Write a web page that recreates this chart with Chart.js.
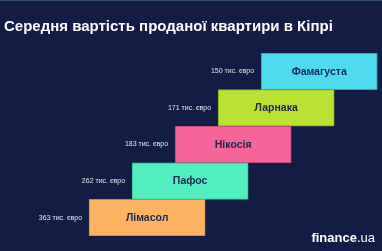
<!DOCTYPE html>
<html>
<head>
<meta charset="utf-8">
<script src="https://cdn.jsdelivr.net/npm/chart.js@4"></script>
<style>
    html, body { margin: 0; padding: 0; background: #131c45; }
    #wrap { width: 382px; height: 251px; position: relative; }
</style>
</head>
<body>
<div id="wrap"><canvas id="bar_chart" width="382" height="251"></canvas></div>
<script>
// top to bottom, as in the picture
var cities = ['Фамагуста', 'Ларнака', 'Нікосія', 'Пафос', 'Лімасол'];
var prices = [150, 171, 183, 262, 363];
var priceLabels = ['150 тис. євро', '171 тис. євро', '183 тис. євро', '262 тис. євро', '363 тис. євро'];
var barColors = ['#4edbeb', '#bbe233', '#f7649a', '#52f0c1', '#fdb462'];
var borderColors = ['#2f9fb4', '#86a825', '#b84676', '#3ab590', '#c4864a'];

(function () {
    'use strict';

    var BG = '#131c45';
    var FONT = "'Liberation Sans', Arial, sans-serif";
    var BAR_LEN = 2.7; // bar length in steps (staircase layout)
    var n = cities.length;

    // each bar steps one unit to the right going up
    var spans = cities.map(function (c, i) {
        var s = n - 1 - i;
        return [s, s + BAR_LEN];
    });

    var decor = {
        id: 'decor',
        beforeDraw: function (chart) {
            var ctx = chart.ctx;
            ctx.save();
            ctx.fillStyle = BG;
            ctx.fillRect(0, 0, chart.width, chart.height);
            ctx.fillStyle = '#35516f';
            ctx.fillRect(0, 0, chart.width, 1);
            ctx.restore();
        },
        afterDatasetsDraw: function (chart) {
            var ctx = chart.ctx;
            var meta = chart.getDatasetMeta(0);
            ctx.save();
            ctx.textBaseline = 'middle';
            meta.data.forEach(function (bar, i) {
                var left = Math.min(bar.x, bar.base);
                var right = Math.max(bar.x, bar.base);
                ctx.fillStyle = '#1c2552';
                ctx.font = 'bold 10.5px ' + FONT;
                ctx.textAlign = 'center';
                ctx.fillText(cities[i], (left + right) / 2, bar.y + 0.5);
                ctx.fillStyle = '#e4e6ee';
                ctx.font = '7px ' + FONT;
                ctx.textAlign = 'right';
                ctx.fillText(priceLabels[i], left - 7, bar.y);
            });

            // title
            ctx.textAlign = 'left';
            ctx.textBaseline = 'alphabetic';
            ctx.fillStyle = '#ffffff';
            ctx.font = 'bold 15px ' + FONT;
            ctx.fillText('Середня вартість проданої квартири в Кіпрі', 4, 31);

            // logo
            ctx.font = 'bold 13px ' + FONT;
            var w1 = ctx.measureText('finance').width;
            ctx.font = '13px ' + FONT;
            var w2 = ctx.measureText('.ua').width;
            var x0 = 375 - w1 - w2;
            ctx.font = 'bold 13px ' + FONT;
            ctx.fillText('finance', x0, 242);
            ctx.font = '13px ' + FONT;
            ctx.fillText('.ua', x0 + w1, 242);
            ctx.restore();
        }
    };

    var config = {
        type: 'bar',
        data: {
            labels: cities,
            datasets: [{
                label: 'Середня вартість, тис. євро',
                data: spans,
                backgroundColor: barColors,
                borderColor: borderColors,
                borderWidth: 1,
                borderSkipped: false,
                barPercentage: 1,
                categoryPercentage: 1
            }]
        },
        options: {
            indexAxis: 'y',
            responsive: false,
            animation: false,
            layout: { padding: { top: 53, bottom: 15, left: 0, right: 0 } },
            scales: {
                x: { type: 'linear', display: false, min: -2.07, max: 6.81 },
                y: { display: false }
            },
            plugins: {
                legend: { display: false },
                tooltip: { enabled: false }
            }
        },
        plugins: [decor]
    };

    var chart = new Chart(document.getElementById('bar_chart').getContext('2d'), config);
}());
</script>
</body>
</html>
